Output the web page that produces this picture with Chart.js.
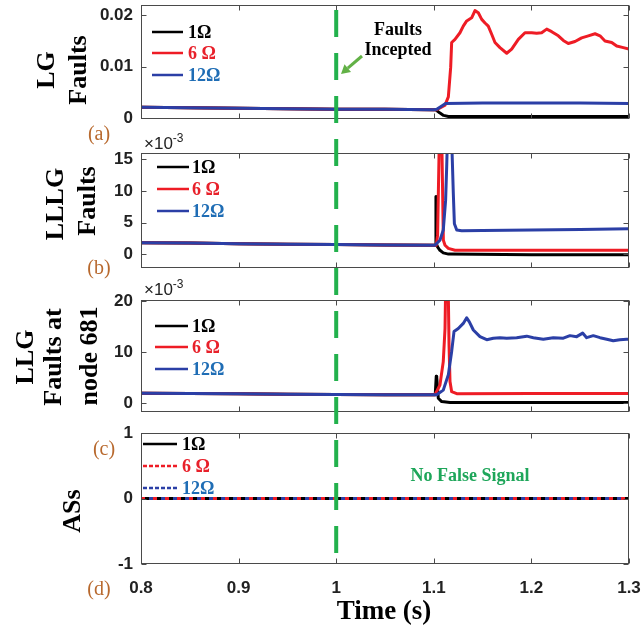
<!DOCTYPE html>
<html>
<head>
<meta charset="utf-8">
<script src="https://cdn.jsdelivr.net/npm/chart.js@4.4.1/dist/chart.umd.min.js"></script>
<style>
  html, body { margin: 0; padding: 0; background: #fff; }
  #wrap { position: relative; width: 644px; height: 625px; overflow: hidden; }
  #wrap canvas { position: absolute; left: 0; top: 0; }
  .lbl { position: absolute; white-space: nowrap; line-height: 1; transform: translate(-50%, -50%); }
  .ytitle { font: bold 26px 'Liberation Serif', 'Times New Roman', serif; color: #000; transform: translate(-50%, -50%) rotate(-90deg); }
  .panel { font: 20px 'Liberation Serif', 'Times New Roman', serif; color: #b8692e; }
  .exp { position: absolute; font: 17px 'Liberation Sans', Arial, sans-serif; color: #222; line-height: 1; }
  .exp sup { font-size: 12px; vertical-align: 7px; line-height: 0; }
  .note { font: bold 18px 'Liberation Serif', 'Times New Roman', serif; text-align: center; line-height: 20px; }
  .xtitle { font: bold 27px 'Liberation Serif', 'Times New Roman', serif; color: #000; }
</style>
</head>
<body>
<div id="wrap">
  <canvas id="cA" width="644" height="625"></canvas>
  <canvas id="cB" width="644" height="625"></canvas>
  <canvas id="cC" width="644" height="625"></canvas>
  <canvas id="cD" width="644" height="625"></canvas>

  <div class="lbl ytitle" style="left:46px;top:70px">LG</div>
  <div class="lbl ytitle" style="left:78px;top:70px">Faults</div>
  <div class="lbl ytitle" style="left:55px;top:204px">LLLG</div>
  <div class="lbl ytitle" style="left:87px;top:201px">Faults</div>
  <div class="lbl ytitle" style="left:25px;top:357px">LLG</div>
  <div class="lbl ytitle" style="left:53px;top:357px">Faults at</div>
  <div class="lbl ytitle" style="left:89px;top:356px">node 681</div>
  <div class="lbl ytitle" style="left:72px;top:511px">ASs</div>

  <div class="lbl panel" style="left:99px;top:133px">(a)</div>
  <div class="lbl panel" style="left:99px;top:267px">(b)</div>
  <div class="lbl panel" style="left:104px;top:448px">(c)</div>
  <div class="lbl panel" style="left:99px;top:588px">(d)</div>

  <div class="exp" style="left:144px;top:135px">×10<sup>-3</sup></div>
  <div class="exp" style="left:144px;top:281px">×10<sup>-3</sup></div>

  <div class="lbl note" style="left:398px;top:39px;color:#000">Faults<br>Incepted</div>
  <div class="lbl note" style="left:470px;top:475px;color:#1ea65a">No False Signal</div>
  <div class="lbl xtitle" style="left:384px;top:610px">Time (s)</div>

  <svg style="position:absolute;left:0;top:0" width="644" height="625">
    <line x1="362" y1="56" x2="347.8" y2="68.2" stroke="#62b146" stroke-width="3"/>
    <polygon points="341,74 344.5,64.3 351,72" fill="#62b146"/>
  </svg>
</div>

<script>
// ===== DATA =====
const xTicks = [0.8, 0.9, 1.0, 1.1, 1.2, 1.3];
const xTickLabels = ['0.8', '0.9', '1', '1.1', '1.2', '1.3'];
const faultTime = 1.0;
const seriesNames = ['1Ω', '6 Ω', '12Ω'];

// pre-fault samples, shared by every series of a panel
const preT = [0.8, 0.85, 0.9, 0.95, 1.0, 1.05, 1.1];

// (a) LG faults
const lgTicks = [0, 0.01, 0.02];
const lgTickLabels = ['0', '0.01', '0.02'];
const lgPreV = [0.0021, 0.0020, 0.0019, 0.0018, 0.0017, 0.0017, 0.0016];
const lgBlackT = [1.102, 1.106, 1.11, 1.115, 1.2, 1.3];
const lgBlackV = [0.0016, 0.0010, 0.0005, 0.0003, 0.0003, 0.0003];
const lgRedT = [1.103, 1.1115, 1.1149, 1.1173, 1.1183, 1.1217, 1.1268, 1.1302, 1.1337, 1.1388,
  1.1422, 1.1456, 1.1491, 1.1525, 1.1558, 1.1593, 1.1627, 1.1678, 1.1747, 1.1798,
  1.1866, 1.1934, 1.2003, 1.2054, 1.2105, 1.2157, 1.2208, 1.2276, 1.2327, 1.2378,
  1.2447, 1.2515, 1.2583, 1.2652, 1.2703, 1.2754, 1.2823, 1.2874, 1.2942, 1.3];
const lgRedV = [0.0016, 0.0025, 0.0041, 0.0099, 0.0147, 0.0153, 0.0166, 0.0179, 0.0189, 0.0195,
  0.0209, 0.0205, 0.0192, 0.0185, 0.0179, 0.0163, 0.0147, 0.0137, 0.0126, 0.0134,
  0.0153, 0.0166, 0.0166, 0.0165, 0.0166, 0.0173, 0.0168, 0.0160, 0.0151, 0.0145,
  0.0149, 0.0156, 0.0160, 0.0164, 0.0160, 0.0150, 0.0147, 0.0140, 0.0137, 0.0134];
const lgBlueT = [1.103, 1.107, 1.112, 1.15, 1.2, 1.25, 1.3];
const lgBlueV = [0.0017, 0.0022, 0.0028, 0.0029, 0.0029, 0.0029, 0.0028];

// (b) LLLG faults (x 10^-3)
const lllgTicks = [0, 5, 10, 15];
const lllgTickLabels = ['0', '5', '10', '15'];
const lllgPreV = [1.8, 1.75, 1.65, 1.55, 1.5, 1.45, 1.4];
const lllgBlackT = [1.1018, 1.1022, 1.1027, 1.104, 1.1063, 1.1097, 1.115, 1.2, 1.3];
const lllgBlackV = [1.4, 9.1, 1.6, 1.1, 0.6, 0.2, 0.0, -0.1, -0.1];
const lllgRedT = [1.1025, 1.1039, 1.107, 1.1098, 1.1115, 1.1149, 1.1217, 1.2, 1.3];
const lllgRedV = [1.4, 3.0, 30, 2.2, 1.4, 0.9, 0.6, 0.6, 0.6];
const lllgBlueT = [1.1012, 1.1063, 1.1097, 1.1121, 1.1132, 1.116, 1.12, 1.1211, 1.1235, 1.1286, 1.15, 1.2, 1.25, 1.3];
const lllgBlueV = [1.4, 2.2, 3.8, 8.5, 13.8, 30, 9.6, 4.8, 3.8, 3.7, 3.75, 3.8, 3.9, 4.0];

// (c) LLG faults at node 681 (x 10^-3)
const llgTicks = [0, 10, 20];
const llgTickLabels = ['0', '10', '20'];
const llgPreV = [1.9, 1.85, 1.8, 1.7, 1.65, 1.6, 1.57];
const llgBlackT = [1.1015, 1.1025, 1.103, 1.1046, 1.1081, 1.1166, 1.2, 1.3];
const llgBlackV = [1.6, 5.2, 5.0, 0.9, 0.25, 0.05, 0.05, 0.05];
const llgRedT = [1.1012, 1.1063, 1.1097, 1.1115, 1.1135, 1.1156, 1.1166, 1.1183, 1.1235, 1.2, 1.3];
const llgRedV = [1.6, 3.5, 8.1, 14.6, 40, 11.4, 4.2, 2.2, 1.8, 1.85, 1.85];
const llgBlueT = [1.103, 1.1097, 1.1149, 1.1183, 1.1207, 1.1251, 1.1302, 1.1337, 1.1364, 1.1405,
  1.1473, 1.1542, 1.161, 1.1678, 1.1747, 1.1849, 1.1952, 1.202, 1.2122, 1.2224,
  1.2327, 1.2395, 1.2464, 1.2525, 1.2566, 1.2634, 1.2703, 1.2772, 1.2839, 1.2906, 1.2976, 1.3];
const llgBlueV = [1.6, 2.5, 5.5, 10.1, 14.0, 14.6, 15.6, 16.7, 15.9, 14.3,
  13.0, 12.4, 12.7, 12.8, 12.7, 12.8, 13.1, 12.8, 12.5, 12.8,
  12.7, 13.2, 13.0, 13.7, 12.8, 13.2, 12.8, 12.5, 12.2, 12.4, 12.5, 12.5];

// (d) ASs
const asTicks = [-1, 0, 1];
const asTickLabels = ['-1', '0', '1'];
const asT = [0.8, 1.3];
const asBlackV = [0, 0];
const asRedV = [0, 0];
const asBlueV = [0, 0];

// ===== STYLE =====
const LINE_COLORS = ['#000000', '#ee1c25', '#2b3fa6'];
const TEXT_COLORS = ['#000000', '#e8202a', '#1f6db5'];
const TICK_FONT = { family: "'Liberation Sans', Arial, sans-serif", size: 17, weight: 'bold' };
const W = 644, H = 625;

function xy(t, v) { return t.map((x, i) => ({ x, y: v[i] })); }
function noPad(s) { s.paddingTop = 0; s.paddingBottom = 0; s.paddingLeft = 0; s.paddingRight = 0; }

// box round the plot area with inward ticks on all four sides
const boxTicks = {
  id: 'boxTicks',
  afterDraw(chart) {
    const { ctx, chartArea: a, scales } = chart;
    const L = Math.round(a.left) + 0.5, R = Math.round(a.right) - 0.5;
    const T = Math.round(a.top) + 0.5, B = Math.round(a.bottom) - 0.5;
    ctx.save();
    ctx.strokeStyle = '#4a4a4a';
    ctx.lineWidth = 1;
    ctx.strokeRect(L, T, R - L, B - T);
    ctx.beginPath();
    scales.y.ticks.forEach(t => {
      const y = Math.round(scales.y.getPixelForValue(t.value)) + 0.5;
      ctx.moveTo(L, y); ctx.lineTo(L + 5, y);
      ctx.moveTo(R, y); ctx.lineTo(R - 5, y);
    });
    scales.x.ticks.forEach(t => {
      const x = Math.round(scales.x.getPixelForValue(t.value)) + 0.5;
      ctx.moveTo(x, B); ctx.lineTo(x, B - 5);
      ctx.moveTo(x, T); ctx.lineTo(x, T + 5);
    });
    ctx.stroke();
    ctx.restore();
  }
};

// legend drawn inside the axes, text coloured like its series
const panelLegend = {
  id: 'panelLegend',
  afterDraw(chart, args, opts) {
    const { ctx } = chart;
    ctx.save();
    ctx.font = "bold 18px 'Liberation Serif', 'Times New Roman', serif";
    ctx.textBaseline = 'middle';
    chart.data.datasets.forEach((ds, i) => {
      const y = opts.rows[i];
      ctx.strokeStyle = ds.borderColor;
      ctx.lineWidth = 2.5;
      ctx.setLineDash(ds.legendDash || []);
      ctx.beginPath();
      ctx.moveTo(opts.x0, y); ctx.lineTo(opts.x1, y);
      ctx.stroke();
      ctx.fillStyle = TEXT_COLORS[i];
      ctx.fillText(ds.label, opts.textX, y + 1);
    });
    ctx.restore();
  }
};

// green dashed line at the fault instant, through all panels
const faultLine = {
  id: 'faultLine',
  afterDraw(chart) {
    const { ctx } = chart;
    const x = chart.scales.x.getPixelForValue(faultTime);
    ctx.save();
    ctx.strokeStyle = '#22b14c';
    ctx.lineWidth = 4;
    ctx.setLineDash([27, 16]);
    ctx.beginPath();
    ctx.moveTo(x, 10); ctx.lineTo(x, chart.chartArea.bottom);
    ctx.stroke();
    ctx.restore();
  }
};

function makePanel(id, p) {
  const xh = p.showX ? 45 : 0;
  const datasets = p.series.map((s, i) => ({
    label: seriesNames[i],
    data: s.data,
    borderColor: LINE_COLORS[i],
    borderWidth: 3,
    borderDash: s.dash || [],
    borderDashOffset: s.dashOffset || 0,
    legendDash: s.legendDash,
    borderJoinStyle: 'round',
    pointRadius: 0,
    tension: 0,
    order: 2 - i
  }));
  return new Chart(document.getElementById(id), {
    type: 'line',
    data: { datasets },
    plugins: p.extra ? [boxTicks, panelLegend, p.extra] : [boxTicks, panelLegend],
    options: {
      responsive: false,
      animation: false,
      events: [],
      layout: { padding: { left: 0, right: 15, top: p.top, bottom: H - p.bottom - xh } },
      plugins: {
        legend: { display: false },
        tooltip: { enabled: false },
        panelLegend: p.legend
      },
      scales: {
        x: {
          type: 'linear', min: 0.8, max: 1.3,
          grid: { display: false, drawTicks: false },
          border: { display: false },
          afterBuildTicks: s => { s.ticks = xTicks.map(v => ({ value: v })); },
          ticks: {
            display: !!p.showX, padding: 14, autoSkip: false, maxRotation: 0,
            color: '#222', font: TICK_FONT,
            callback: (v, i) => xTickLabels[i]
          },
          afterFit: s => { s.height = xh; noPad(s); }
        },
        y: {
          type: 'linear', min: p.yMin, max: p.yMax,
          grid: { display: false, drawTicks: false },
          border: { display: false },
          afterBuildTicks: s => { s.ticks = p.yTicks.map(v => ({ value: v })); },
          ticks: {
            padding: 8, autoSkip: false, color: '#222', font: TICK_FONT,
            callback: (v, i) => p.yLabels[i]
          },
          afterFit: s => { s.width = 141; noPad(s); }
        }
      }
    }
  });
}

makePanel('cA', {
  top: 5, bottom: 119, yMin: -0.0002, yMax: 0.022,
  yTicks: lgTicks, yLabels: lgTickLabels,
  series: [
    { data: xy(preT.concat(lgBlackT), lgPreV.concat(lgBlackV)) },
    { data: xy(preT.concat(lgRedT), lgPreV.concat(lgRedV)) },
    { data: xy(preT.concat(lgBlueT), lgPreV.concat(lgBlueV)) }
  ],
  legend: { x0: 152, x1: 183, textX: 188, rows: [32, 53, 75] }
});

makePanel('cB', {
  top: 153, bottom: 268, yMin: -2.2, yMax: 16,
  yTicks: lllgTicks, yLabels: lllgTickLabels,
  series: [
    { data: xy(preT.concat(lllgBlackT), lllgPreV.concat(lllgBlackV)) },
    { data: xy(preT.concat(lllgRedT), lllgPreV.concat(lllgRedV)) },
    { data: xy(preT.concat(lllgBlueT), lllgPreV.concat(lllgBlueV)) }
  ],
  legend: { x0: 157, x1: 189, textX: 192, rows: [167, 189, 211] }
});

makePanel('cC', {
  top: 300, bottom: 412, yMin: -1.8, yMax: 20.2,
  yTicks: llgTicks, yLabels: llgTickLabels,
  series: [
    { data: xy(preT.concat(llgBlackT), llgPreV.concat(llgBlackV)) },
    { data: xy(preT.concat(llgRedT), llgPreV.concat(llgRedV)) },
    { data: xy(preT.concat(llgBlueT), llgPreV.concat(llgBlueV)) }
  ],
  legend: { x0: 155, x1: 188, textX: 192, rows: [326, 347, 369] }
});

makePanel('cD', {
  top: 433, bottom: 564, yMin: -1, yMax: 1, showX: true,
  yTicks: asTicks, yLabels: asTickLabels,
  series: [
    { data: xy(asT, asBlackV) },
    { data: xy(asT, asRedV), dash: [4, 8], legendDash: [4, 2] },
    { data: xy(asT, asBlueV), dash: [4, 8], dashOffset: 4, legendDash: [4, 2] }
  ],
  legend: { x0: 143, x1: 177, textX: 182, rows: [444, 466, 488] },
  extra: faultLine
});
</script>
</body>
</html>
